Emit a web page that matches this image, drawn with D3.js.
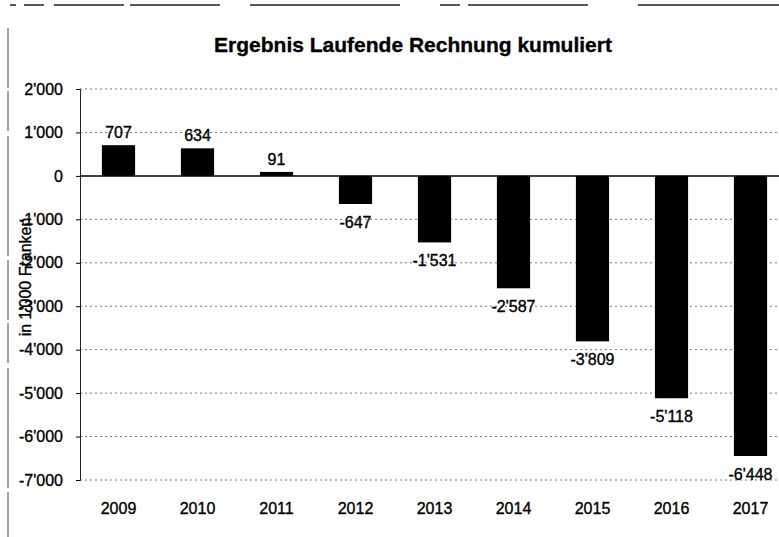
<!DOCTYPE html>
<html>
<head>
<meta charset="utf-8">
<script src="https://cdn.jsdelivr.net/npm/d3@7"></script>
<style>
  body { margin: 0; background: #fff; }
  svg { display: block; font-family: "Liberation Sans", Arial, sans-serif; }
  text { stroke: #000; stroke-width: 0.35px; }
</style>
</head>
<body>
<div class="chart"></div>
<script>
// data
const years = ["2009", "2010", "2011", "2012", "2013", "2014", "2015", "2016", "2017"];
const values = [707, 634, 91, -647, -1531, -2587, -3809, -5118, -6448];
const yTicks = [2000, 1000, 0, -1000, -2000, -3000, -4000, -5000, -6000, -7000];

const width = 779;
const height = 537;

const fmt = v => d3.format(",")(v).replace(/,/g, "'").replace("−", "-");

const svg = d3.select('.chart')
  .append('svg')
  .attr('width', width)
  .attr('height', height);

// scan frame lines
svg.append("line")
  .attr("x1", 10).attr("x2", width).attr("y1", 5).attr("y2", 5)
  .attr("stroke", "#222").attr("stroke-width", 1.5)
  .attr("stroke-dasharray", "6,8,20,10,70,6,90,30,150,40,20,8,120,50,150");
svg.append("line")
  .attr("x1", 8).attr("x2", 8).attr("y1", 28).attr("y2", height)
  .attr("stroke", "#444").attr("stroke-width", 1)
  .attr("stroke-dasharray", "60,3,40,5,120,4");

const x = d3.scaleBand()
  .domain(years)
  .range([79, 790])
  .paddingInner(0.58)
  .paddingOuter(0.29);

const y = d3.scaleLinear()
  .domain([-7000, 2000])
  .range([480, 89]);

// gridlines
svg.append("g")
  .selectAll("line")
  .data(yTicks.filter(d => d !== 0))
  .join("line")
  .attr("x1", 80)
  .attr("x2", width)
  .attr("y1", d => y(d))
  .attr("y2", d => y(d))
  .attr("stroke", "#777")
  .attr("stroke-width", 1)
  .attr("stroke-dasharray", "2,3");

// y axis
const yAxis = g => {
  g.attr("transform", `translate(80,0)`)
  .call(d3.axisLeft(y).tickValues(yTicks).tickFormat(fmt).tickSize(4).tickPadding(13))
  .attr("font-size", "16px")
  .attr("font-family", null)
  .call(g => g.select(".domain").attr("stroke", "#222"));
};
svg.append("g").call(yAxis);

// bars
svg.append("g")
  .attr("fill", "#000")
  .selectAll("rect")
  .data(values)
  .join("rect")
  .attr("x", (d, i) => x(years[i]))
  .attr("y", d => y(Math.max(0, d)))
  .attr("width", x.bandwidth())
  .attr("height", d => Math.abs(y(d) - y(0)));

// zero line
svg.append("line")
  .attr("x1", 80).attr("x2", width)
  .attr("y1", y(0)).attr("y2", y(0))
  .attr("stroke", "#000").attr("stroke-width", 1.5);

// value labels
svg.append("g")
  .attr("font-size", "16px")
  .attr("text-anchor", "middle")
  .selectAll("text")
  .data(values)
  .join("text")
  .attr("x", (d, i) => x(years[i]) + x.bandwidth() / 2)
  .attr("y", d => d >= 0 ? y(d) - 7 : y(d) + 24)
  .text(d => fmt(d));

// x labels
svg.append("g")
  .attr("font-size", "16px")
  .attr("text-anchor", "middle")
  .selectAll("text")
  .data(years)
  .join("text")
  .attr("x", d => x(d) + x.bandwidth() / 2)
  .attr("y", 514)
  .text(d => d);

// title
svg.append("text")
  .attr("x", 413)
  .attr("y", 52)
  .attr("text-anchor", "middle")
  .attr("font-size", "21px")
  .attr("font-weight", "bold")
  .text("Ergebnis Laufende Rechnung kumuliert");

// y axis title
svg.append("text")
  .attr("transform", "translate(31,277) rotate(-90)")
  .attr("text-anchor", "middle")
  .attr("font-size", "16px")
  .text("in 1'000 Franken");
</script>
</body>
</html>
